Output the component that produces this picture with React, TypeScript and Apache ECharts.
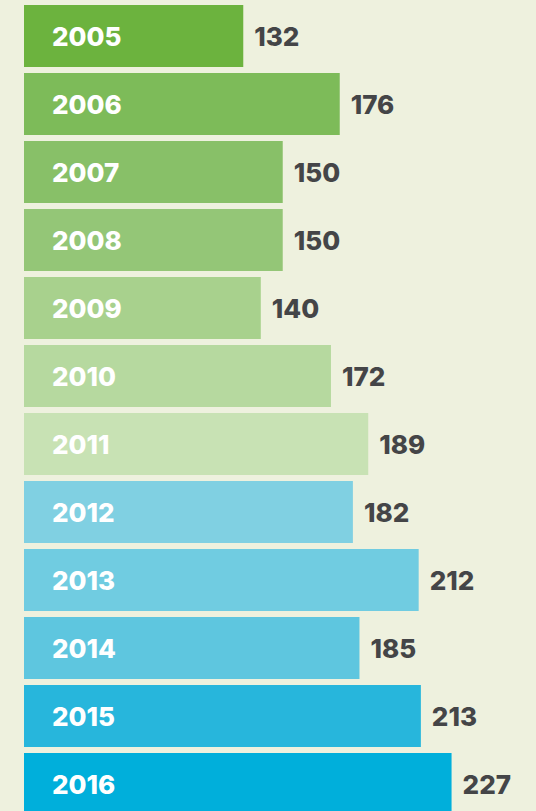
import React, { useEffect, useRef } from "react";
import * as echarts from "echarts";

const years = ["2005", "2006", "2007", "2008", "2009", "2010", "2011", "2012", "2013", "2014", "2015", "2016"];
const values = [132, 176, 150, 150, 140, 172, 189, 182, 212, 185, 213, 227];
const barColors = [
  "#6cb33e", "#7dbb59", "#88c068", "#94c677", "#a8d18d", "#b6d99f",
  "#c8e2b4", "#80d0e2", "#70cce1", "#5ec6df", "#27b6dc", "#00afdb",
];

export default function App() {
  const ref = useRef<HTMLDivElement>(null);
  useEffect(() => {
    document.body.style.margin = "0";
    document.body.style.overflow = "hidden";
    document.documentElement.style.overflow = "hidden";
    const chart = echarts.init(ref.current!, null, { renderer: "svg" });
    chart.setOption({
      animation: false,
      backgroundColor: "#eef1de",
      grid: { left: 24, right: 34, top: 2, bottom: 0, containLabel: false },
      xAxis: { type: "value", min: 32, max: 250, show: false },
      yAxis: {
        type: "category",
        data: years,
        inverse: true,
        z: 10,
        axisLine: { show: false },
        axisTick: { show: false },
        axisLabel: {
          inside: true,
          margin: 28,
          color: "#ffffff",
          fontFamily: "Inter",
          fontWeight: 800,
          fontSize: 26,
        },
      },
      series: [
        {
          type: "bar",
          barWidth: 62,
          data: values.map((v, i) => ({ value: v, itemStyle: { color: barColors[i] } })),
          label: {
            show: true,
            position: "right",
            distance: 11,
            color: "#444547",
            fontFamily: "Inter",
            fontWeight: 800,
            fontSize: 26,
          },
        },
      ],
    });
    return () => chart.dispose();
  }, []);
  return <div ref={ref} style={{ width: 536, height: 818 }} />;
}
